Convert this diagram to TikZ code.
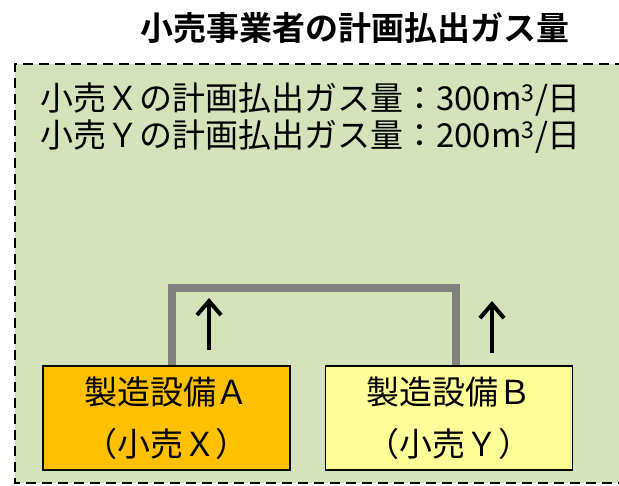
\documentclass[tikz,border=0pt]{standalone}
\usepackage{fontspec}
\newfontfamily\jp{Noto Sans CJK JP}
\newfontfamily\jpb{Noto Sans CJK JP Bold}
\usetikzlibrary{arrows.meta}
\definecolor{bgg}{RGB}{213,227,186}
\definecolor{orng}{RGB}{255,192,0}
\definecolor{ylw}{RGB}{255,255,153}
\definecolor{pipe}{RGB}{128,128,128}
\tikzset{
  every node/.style={font=\jp},
  plant/.style={draw=black, line width=1.5pt, minimum width=247pt, minimum height=104pt, align=center, font=\jp\fontsize{33}{52}\selectfont, inner sep=0pt},
  txt/.style={anchor=west, font=\jp\fontsize{33}{38}\selectfont, inner sep=0pt},
  pipeline/.style={draw=pipe, line width=8pt},
  flow/.style={draw=black, line width=4pt, -{Straight Barb[length=14pt,width=24pt,line width=4pt]}}
}
\begin{document}
\begin{tikzpicture}[x=1pt,y=-1pt]
\useasboundingbox (0,0) rectangle (619,486);
\fill[bgg] (15,64) rectangle (625,483);
\draw[line width=2.5pt, dash pattern=on 10pt off 6pt] (625,64) -- (15,64) -- (15,483) -- (625,483);
\node[font=\jpb\fontsize{33}{38}\selectfont, inner sep=0pt] (title) at (355,28) {小売事業者の計画払出ガス量};
\node[txt] (lx) at (40,100) {小売Ｘの計画払出ガス量：300m\textsuperscript{3}/日};
\node[txt] (ly) at (40,137) {小売Ｙの計画払出ガス量：200m\textsuperscript{3}/日};
\node[plant, fill=orng] (A) at (166.5,418) {製造設備Ａ\\（小売Ｘ）};
\node[plant, fill=ylw] (B) at (449,418) {製造設備Ｂ\\（小売Ｙ）};
\coordinate (p1) at (172,288);
\coordinate (p2) at (456,288);
\draw[pipeline] (A.north -| p1) -- (p1) -- (p2) -- (B.north -| p2);
\coordinate (a1s) at (209,350);
\coordinate (a1e) at (209,298);
\coordinate (a2s) at (492,353);
\coordinate (a2e) at (492,301);
\draw[flow] (a1s) -- (a1e);
\draw[flow] (a2s) -- (a2e);
\end{tikzpicture}
\end{document}
